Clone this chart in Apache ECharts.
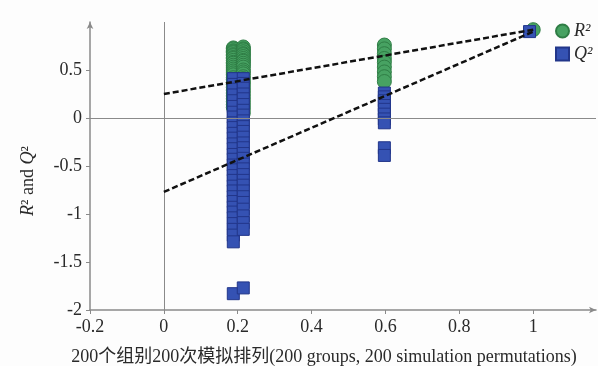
<!DOCTYPE html>
<html><head><meta charset="utf-8">
<script src="https://cdn.jsdelivr.net/npm/echarts@6/dist/echarts.min.js"></script>
<style>html,body{margin:0;padding:0;background:#fdfdfd}#c{width:598px;height:366px}</style>
</head><body><div id="c"></div>
<script>
// ---- data ----
const xTicks = [-0.2, 0, 0.2, 0.4, 0.6, 0.8, 1];
const yTicks = [-2, -1.5, -1, -0.5, 0, 0.5];
const colA = 0.188, colB = 0.215, colC = 0.597;
const r2ColA = [0.73,0.72,0.70,0.69,0.68,0.66,0.65,0.63,0.62,0.60,0.58,0.57,0.55,0.53,0.51,0.49,0.47,0.45,0.42,0.40,0.37,0.35,0.32,0.29,0.26,0.23,0.20,0.17,0.14,0.11];
const r2ColB = [0.74,0.72,0.71,0.69,0.67,0.66,0.64,0.62,0.60,0.59,0.57,0.55,0.53,0.50,0.48,0.46,0.43,0.41,0.38,0.36,0.33,0.30,0.27,0.24,0.21,0.18,0.15,0.12,0.09,0.05];
const r2ColC = [0.76,0.72,0.67,0.62,0.58,0.53,0.48,0.43,0.38];
const q2ColA = [0.41,0.35,0.30,0.24,0.18,0.12,0.06,0.01,-0.05,-0.10,-0.16,-0.21,-0.27,-0.32,-0.38,-0.43,-0.49,-0.54,-0.60,-0.65,-0.71,-0.76,-0.82,-0.87,-0.93,-0.98,-1.04,-1.10,-1.16,-1.22,-1.29,-1.83];
const q2ColB = [0.41,0.36,0.31,0.25,0.20,0.14,0.08,0.03,-0.03,-0.09,-0.14,-0.20,-0.26,-0.31,-0.37,-0.42,-0.48,-0.53,-0.59,-0.65,-0.70,-0.76,-0.82,-0.88,-0.95,-1.02,-1.09,-1.16,-1.77];
const q2ColC = [0.26,0.22,0.18,0.13,0.09,0.04,-0.01,-0.05,-0.31,-0.39];
const r2Orig = [1.0, 0.92];
const q2Orig = [0.99, 0.90];
const r2Line = [[0, 0.25], [1, 0.92]];
const q2Line = [[0, -0.77], [1, 0.90]];

const toPts = (x, arr) => arr.map(v => [x, v]);
const r2Data = [...toPts(colA, r2ColA), ...toPts(colB, r2ColB), ...toPts(colC, r2ColC), r2Orig];
const q2Data = [...toPts(colA, q2ColA), ...toPts(colB, q2ColB), ...toPts(colC, q2ColC), q2Orig];

const serif = '"Liberation Serif", "Noto Sans CJK SC", serif';
const axisCol = '#8a8a8a';
const txt = '#2a2a2a';
const chart = echarts.init(document.getElementById('c'));
chart.setOption({
  backgroundColor: '#fdfdfd',
  animation: false,
  grid: { left: 90, right: 2, top: 22, bottom: 56, outerBoundsMode: 'none', containLabel: false },
  legend: {
    orient: 'vertical', left: 550, top: 17, itemGap: 5,
    itemWidth: 13, itemHeight: 13,
    textStyle: { fontFamily: serif, fontSize: 18, fontStyle: 'italic', color: txt },
    data: [{ name: 'R²', icon: 'circle' }, { name: 'Q²', icon: 'rect' }]
  },
  xAxis: {
    type: 'value', min: -0.2, max: 1.17, interval: 0.2,
    splitLine: { show: false },
    axisLine: { onZero: false, lineStyle: { color: axisCol, width: 1.5 }, symbol: ['none', 'arrow'], symbolSize: [5, 7] },
    axisTick: { show: true, length: 4, lineStyle: { color: axisCol }, customValues: xTicks },
    axisLabel: { customValues: xTicks, fontFamily: serif, fontSize: 18, color: txt, margin: 8 },
    name: '200个组别200次模拟排列(200 groups, 200 simulation permutations)',
    nameLocation: 'middle', nameGap: 38,
    nameTextStyle: { fontFamily: serif, fontSize: 18, color: txt, padding: [0, 38, 0, 0] }
  },
  yAxis: {
    type: 'value', min: -2, max: 1.0, interval: 0.5,
    splitLine: { show: false },
    axisLine: { onZero: false, lineStyle: { color: axisCol, width: 1.5 }, symbol: ['none', 'arrow'], symbolSize: [5, 7] },
    axisTick: { show: true, length: 4, lineStyle: { color: axisCol }, customValues: yTicks },
    axisLabel: { customValues: yTicks, fontFamily: serif, fontSize: 18, color: txt, margin: 8 },
    name: '{i|R}² and {i|Q}²',
    nameLocation: 'middle', nameGap: 53, nameRotate: 90,
    nameTextStyle: { fontFamily: serif, fontSize: 18, color: txt, padding: [0, 30, 0, 0],
      rich: { i: { fontFamily: serif, fontSize: 18, fontStyle: 'italic', color: txt } } }
  },
  series: [
    {
      type: 'line', data: [], silent: true,
      markLine: {
        silent: true, symbol: 'none', label: { show: false },
        lineStyle: { color: '#8a8a8a', width: 1, type: 'solid' },
        data: [{ xAxis: 0 }, { yAxis: 0 }]
      }
    },
    {
      name: 'R²', type: 'scatter', data: r2Data, symbol: 'circle', symbolSize: 14,
      itemStyle: { color: '#47a262', borderColor: '#2f7d45', borderWidth: 1, opacity: 1 }, z: 3
    },
    {
      name: 'Q²', type: 'scatter', data: q2Data, symbol: 'rect', symbolSize: 12,
      itemStyle: { color: '#3552b3', borderColor: '#22368a', borderWidth: 1, opacity: 1 }, z: 4
    },
    {
      type: 'line', data: r2Line, symbol: 'none', silent: true, z: 5,
      lineStyle: { color: '#111', width: 2.5, type: [6, 3] }
    },
    {
      type: 'line', data: q2Line, symbol: 'none', silent: true, z: 5,
      lineStyle: { color: '#111', width: 2.5, type: [6, 3] }
    }
  ]
});
</script></body></html>
